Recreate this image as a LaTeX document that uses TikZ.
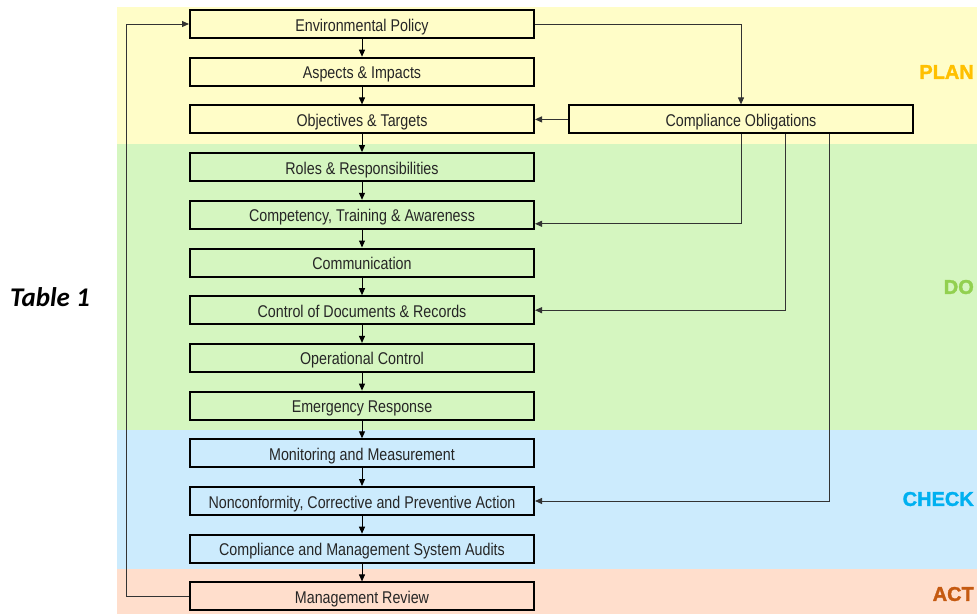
\documentclass[tikz,border=0pt]{standalone}
\usepackage{fontspec}
\setmainfont{Liberation Sans}[FakeStretch=0.84]
\newfontfamily\phasefont{Liberation Sans}[BoldFeatures={FakeBold=1.6}]
\newfontfamily\tabfont{Carlito}
\usetikzlibrary{arrows.meta}
\definecolor{planbg}{HTML}{FFFDC8}
\definecolor{dobg}{HTML}{D5F6C0}
\definecolor{checkbg}{HTML}{CCEBFD}
\definecolor{actbg}{HTML}{FFDECC}
\definecolor{plancol}{HTML}{FFC000}
\definecolor{docol}{HTML}{92D050}
\definecolor{checkcol}{HTML}{00B0F0}
\definecolor{actcol}{HTML}{C55A11}
\definecolor{linecol}{HTML}{333333}
\tikzset{
  stepbox/.style={draw=black, line width=2pt, minimum width=344pt, minimum height=28pt,
    inner sep=0pt, text height=14pt, text depth=0pt,
    font=\fontsize{17}{19}\selectfont, text=black!85},
  flow/.style={draw=black, line width=1pt, -{Triangle[length=7pt,width=6pt]}},
  link/.style={draw=linecol, line width=1pt, -{Triangle[length=7pt,width=6pt]}},
  phase/.style={anchor=east, font=\phasefont\bfseries\fontsize{20}{22}\selectfont, inner sep=0pt}
}
\begin{document}
\begin{tikzpicture}[x=1pt,y=-1pt]
\useasboundingbox (0,0) rectangle (977,614);
\fill[white] (0,0) rectangle (977,614);
\fill[planbg] (117,7) rectangle (977,144);
\fill[dobg] (117,144) rectangle (977,429.5);
\fill[checkbg] (117,429.5) rectangle (977,568.5);
\fill[actbg] (117,568.5) rectangle (977,614);

\node[phase, text=plancol] (lplan) at (974,72) {PLAN};
\node[phase, text=docol] (ldo) at (974,287) {DO};
\node[phase, text=checkcol] (lcheck) at (974,499) {CHECK};
\node[phase, text=actcol] (lact) at (974,594) {ACT};

\node[font=\tabfont\bfseries\itshape\fontsize{27}{29}\selectfont] (tab) at (50,297) {Table 1};

\node[stepbox, fill=planbg] (b1) at (362,24) {Environmental Policy};
\node[stepbox, fill=planbg] (b2) at (362,71.7) {Aspects \& Impacts};
\node[stepbox, fill=planbg] (b3) at (362,119.4) {Objectives \& Targets};
\node[stepbox, fill=dobg] (b4) at (362,167.1) {Roles \& Responsibilities};
\node[stepbox, fill=dobg] (b5) at (362,214.8) {Competency, Training \& Awareness};
\node[stepbox, fill=dobg] (b6) at (362,262.5) {Communication};
\node[stepbox, fill=dobg] (b7) at (362,310.2) {Control of Documents \& Records};
\node[stepbox, fill=dobg] (b8) at (362,357.9) {Operational Control};
\node[stepbox, fill=dobg] (b9) at (362,405.6) {Emergency Response};
\node[stepbox, fill=checkbg] (b10) at (362,453.3) {Monitoring and Measurement};
\node[stepbox, fill=checkbg] (b11) at (362,501) {Nonconformity, Corrective and Preventive Action};
\node[stepbox, fill=checkbg] (b12) at (362,548.7) {Compliance and Management System Audits};
\node[stepbox, fill=actbg] (b13) at (362,596.4) {Management Review};

\node[stepbox, fill=planbg] (co) at (741,119.4) {Compliance Obligations};

\foreach \a/\b in {b1/b2,b2/b3,b3/b4,b4/b5,b5/b6,b6/b7,b7/b8,b8/b9,b9/b10,b10/b11,b11/b12,b12/b13}
  \draw[flow] (\a.south) -- (\b.north);

\draw[link] (b1.east) -| (co.north);
\draw[link] (co.west) -- (b3.east);
\draw[link] (co.south) |- ([yshift=-9pt]b5.east);
\draw[link] ([xshift=44pt]co.south) |- (b7.east);
\draw[link] ([xshift=88pt]co.south) |- (b11.east);
\coordinate (lp) at (126,0);
\draw[link] (b13.west) -| (lp |- b13.west) |- (b1.west);
\end{tikzpicture}
\end{document}
